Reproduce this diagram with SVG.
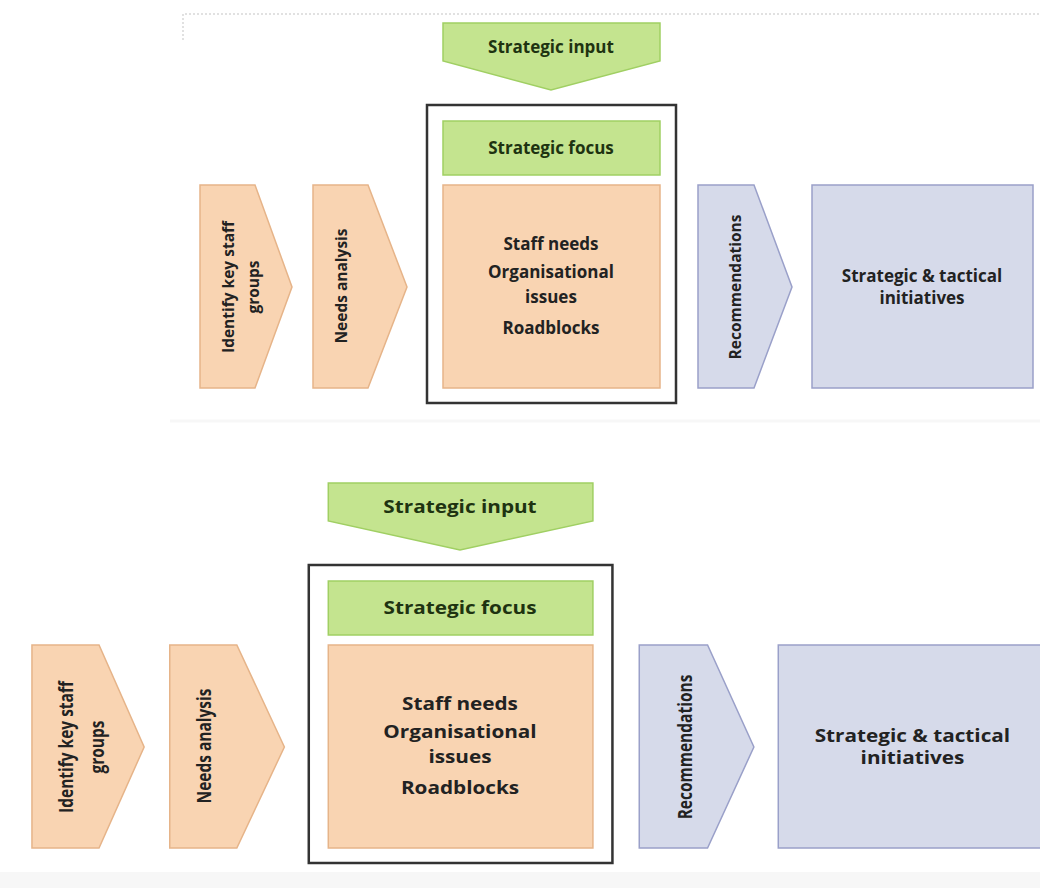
<svg xmlns="http://www.w3.org/2000/svg" width="1040" height="888" viewBox="0 0 1040 888">
<style>
.or{fill:#F9D4B2;stroke:#E6B489;stroke-width:1.5;vector-effect:non-scaling-stroke}
.gr{fill:#C4E48F;stroke:#A0CF63;stroke-width:1.5;vector-effect:non-scaling-stroke}
.bl{fill:#D6DAEA;stroke:#9AA0C9;stroke-width:1.5;vector-effect:non-scaling-stroke}
.fr{fill:#FFFFFF;stroke:#333333;stroke-width:2.5;vector-effect:non-scaling-stroke}
.t{font-family:"Open Sans","Liberation Sans",sans-serif;font-weight:700;font-size:17px;fill:#222222;text-anchor:middle}
.tg{fill:#1E3311}
.v{font-size:15.5px}
.dot{fill:none;stroke:#D8D8D8;stroke-width:1.5;stroke-dasharray:2 2}
</style>
<rect width="1040" height="888" fill="#FFFFFF"/>
<rect x="0" y="872" width="1040" height="16" fill="#F7F7F7"/>
<path class="dot" d="M183,40 L183,14 L1040,14"/>
<line x1="170" y1="421" x2="1040" y2="421" stroke="#F7F7F7" stroke-width="3"/>

<g id="diagram-top">
  <g id="top-frame"><rect class="fr" x="427" y="105" width="249" height="298"/></g>
  <g id="top-strategic-input">
    <polygon class="gr" points="443,23 660,23 660,61 551,90 443,61"/>
    <text class="t tg" x="551" y="53">Strategic input</text>
  </g>
  <g id="top-strategic-focus">
    <rect class="gr" x="443" y="121" width="217" height="54"/>
    <text class="t tg" x="551" y="154">Strategic focus</text>
  </g>
  <g id="top-focus-content">
    <rect class="or" x="443" y="185" width="217" height="203"/>
    <text class="t" x="551" y="250">Staff needs</text>
    <text class="t" x="551" y="278">Organisational</text>
    <text class="t" x="551" y="303">issues</text>
    <text class="t" x="551" y="334">Roadblocks</text>
  </g>
  <g id="top-identify">
    <polygon class="or" points="200,185 255,185 292,287 255,388 200,388"/>
    <text class="t v" transform="translate(234,287) rotate(-90)">Identify key staff</text>
    <text class="t v" transform="translate(259,287) rotate(-90)">groups</text>
  </g>
  <g id="top-needs">
    <polygon class="or" points="313,185 368,185 407,287 368,388 313,388"/>
    <text class="t v" transform="translate(347,286) rotate(-90)">Needs analysis</text>
  </g>
  <g id="top-recommendations">
    <polygon class="bl" points="698,185 754,185 792,287 754,388 698,388"/>
    <text class="t v" transform="translate(741,287) rotate(-90)">Recommendations</text>
  </g>
  <g id="top-initiatives">
    <rect class="bl" x="812" y="185" width="221" height="203"/>
    <text class="t" x="922" y="282">Strategic &amp; tactical</text>
    <text class="t" x="922" y="304">initiatives</text>
  </g>
</g>

<g id="diagram-bottom" transform="matrix(1.2195 0 0 1 -211.95 460)">
  <g id="bottom-frame"><rect class="fr" x="427" y="105" width="249" height="298"/></g>
  <g id="bottom-strategic-input">
    <polygon class="gr" points="443,23 660,23 660,61 551,90 443,61"/>
    <text class="t tg" x="551" y="53">Strategic input</text>
  </g>
  <g id="bottom-strategic-focus">
    <rect class="gr" x="443" y="121" width="217" height="54"/>
    <text class="t tg" x="551" y="154">Strategic focus</text>
  </g>
  <g id="bottom-focus-content">
    <rect class="or" x="443" y="185" width="217" height="203"/>
    <text class="t" x="551" y="250">Staff needs</text>
    <text class="t" x="551" y="278">Organisational</text>
    <text class="t" x="551" y="303">issues</text>
    <text class="t" x="551" y="334">Roadblocks</text>
  </g>
  <g id="bottom-identify">
    <polygon class="or" points="200,185 255,185 292,287 255,388 200,388"/>
    <text class="t v" transform="translate(234,287) rotate(-90)">Identify key staff</text>
    <text class="t v" transform="translate(259,287) rotate(-90)">groups</text>
  </g>
  <g id="bottom-needs">
    <polygon class="or" points="313,185 368,185 407,287 368,388 313,388"/>
    <text class="t v" transform="translate(347,286) rotate(-90)">Needs analysis</text>
  </g>
  <g id="bottom-recommendations">
    <polygon class="bl" points="698,185 754,185 792,287 754,388 698,388"/>
    <text class="t v" transform="translate(741,287) rotate(-90)">Recommendations</text>
  </g>
  <g id="bottom-initiatives">
    <rect class="bl" x="812" y="185" width="221" height="203"/>
    <text class="t" x="922" y="282">Strategic &amp; tactical</text>
    <text class="t" x="922" y="304">initiatives</text>
  </g>
</g>
<g id="connectors"/>
</svg>
